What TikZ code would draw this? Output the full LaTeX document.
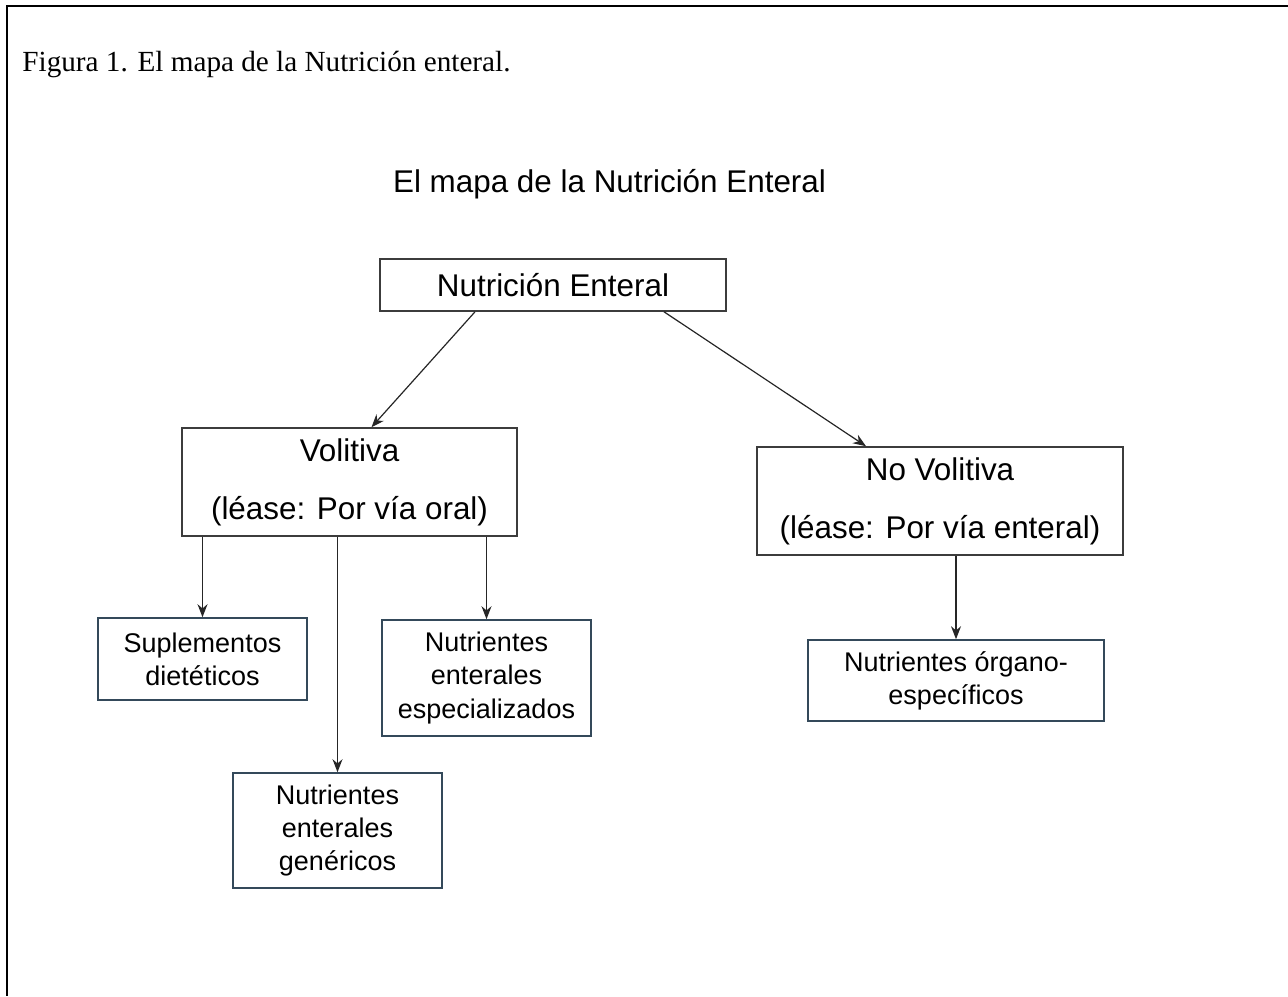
\documentclass[tikz,border=0pt]{standalone}
\usepackage{fontspec}
\setmainfont{Liberation Serif}
\newfontfamily\diagfont{Liberation Sans}
\usepackage{tikz}
\usetikzlibrary{arrows.meta}
\definecolor{boxgray}{HTML}{3C3C3C}
\definecolor{boxslate}{HTML}{34495A}
\tikzstyle{edge}=[line width=0.6pt, black!85, >={Stealth[length=6.5pt,width=5pt]}]
\tikzstyle{bigbox}=[draw=boxgray, line width=0.8pt, align=center, inner sep=0pt,
  font=\diagfont\fontsize{15.7}{29}\selectfont]
\tikzstyle{smallbox}=[draw=boxslate, line width=0.8pt, align=center, inner sep=0pt,
  minimum width=104.5pt, font=\diagfont\fontsize{13.5}{16.6}\selectfont]

\begin{document}
\begin{tikzpicture}[x=0.5pt, y=-0.5pt]
    \useasboundingbox (0,0) rectangle (1288,996);
    %%%%%  Marco  %%%%%
    \draw [line width=1.1pt] (1288,6) -- (7,6) -- (7,996);
    \node (cap) [anchor=base west, inner sep=0pt, font=\fontsize{14.6}{17}\selectfont] at (22,71)
      {Figura 1. El mapa de la Nutrición enteral.};
    \node (tit) [anchor=base, font=\diagfont\fontsize{15.7}{19}\selectfont] at (609.5,192)
      {El mapa de la Nutrición Enteral};

    %%%%%  Cajas principales  %%%%%
    \node (ne)    [bigbox, minimum width=173pt, minimum height=26pt] at (553,285) {Nutrición Enteral};
    \node (vol)   [bigbox, minimum width=167.5pt, minimum height=54pt] at (349.5,482)
      {Volitiva\\(léase: Por vía oral)};
    \node (novol) [bigbox, minimum width=183pt, minimum height=54pt] at (940,501)
      {No Volitiva\\(léase: Por vía enteral)};

    %%%%%  Cajas de tipos  %%%%%
    \node (supl)   [smallbox, minimum height=41pt] at (202.5,659) {Suplementos\\dietéticos};
    \node (espec)  [smallbox, minimum height=58pt] at (486.5,678) {Nutrientes\\enterales\\especializados};
    \node (gener)  [smallbox, minimum height=57.5pt] at (337.5,830.5) {Nutrientes\\enterales\\genéricos};
    \node (organo) [smallbox, minimum width=148pt, minimum height=40.5pt] at (956,680.5)
      {Nutrientes órgano-\\específicos};

    %%%%%  Flechas  %%%%%
    \draw [edge, ->] ([xshift=-39pt]ne.south) to ([xshift=11pt]vol.north);
    \draw [edge, ->] ([xshift=55.5pt]ne.south) to ([xshift=-37pt]novol.north);
    \draw [edge, ->] (vol.south -| supl.north) to (supl.north);
    \draw [edge, ->] (vol.south -| gener.north) to (gener.north);
    \draw [edge, ->] (vol.south -| espec.north) to (espec.north);
    \draw [edge, ->] (novol.south -| organo.north) to (organo.north);
  \end{tikzpicture}
\end{document}
